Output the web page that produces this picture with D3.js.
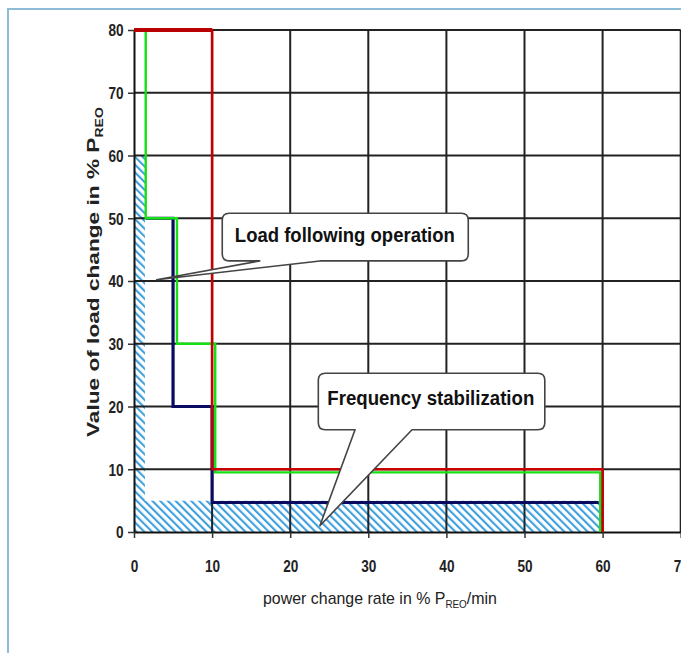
<!DOCTYPE html>
<html>
<head>
<meta charset="utf-8">
<script src="https://cdn.jsdelivr.net/npm/d3@7"></script>
<style>
  html, body { margin: 0; padding: 0; background: #fff; }
  svg { display: block; }
</style>
</head>
<body>
<svg id="chart" width="681" height="653"></svg>
<script>
// ---------- data ----------
const xTicks = [0, 10, 20, 30, 40, 50, 60, 70];
const yTicks = [0, 10, 20, 30, 40, 50, 60, 70, 80];

// step curves: [power change rate %/min, load change %]
const redSteps   = [[0, 80], [10, 80], [10, 10], [60, 10], [60, 0]];
const greenSteps = [[0.3, 80], [1.5, 80], [1.5, 50], [5.5, 50], [5.5, 30], [10.4, 30], [10.4, 9.5], [59.7, 9.5], [59.7, 0]];
const navySteps  = [[1.5, 50], [5, 50], [5, 20], [10, 20], [10, 4.7], [59.5, 4.7]];

// hatched (frequency stabilization) area outline
const hatchArea = [[0, 0], [0, 60], [1.4, 60], [1.4, 5], [60, 5], [60, 0]];

// callouts in data units
const callouts = [
  { text: "Load following operation", x0: 11.3, x1: 42.8, yTop: 50.8, yBot: 43.2,
    base1: 16.1, base2: 23.8, tip: [2.9, 40.2], tx: 27.0, ty: 46.2, tw: 220 },
  { text: "Frequency stabilization", x0: 23.6, x1: 52.6, yTop: 25.3, yBot: 16.3,
    base1: 28.3, base2: 35.6, tip: [23.8, 1.0], tx: 38.0, ty: 20.2, tw: 207 }
];

const xTitle = ["power change rate in % P", "REO", "/min"];
const yTitle = ["Value of load change in % P", "REO"];

// ---------- layout ----------
const svg = d3.select("#chart");
const x = d3.scaleLinear().domain([0, 70]).range([134, 680.7]);
const y = d3.scaleLinear().domain([0, 80]).range([532, 30]);

// frame
svg.append("rect").attr("x", 8).attr("y", 9).attr("width", 720).attr("height", 700)
  .attr("fill", "none").attr("stroke", "#8dbbd8").attr("stroke-width", 2);

// hatch pattern
const defs = svg.append("defs");
const pat = defs.append("pattern").attr("id", "hatch")
  .attr("patternUnits", "userSpaceOnUse").attr("width", 5.5).attr("height", 5.5)
  .attr("patternTransform", "rotate(-45)");
pat.append("line").attr("x1", 1).attr("y1", -1).attr("x2", 1).attr("y2", 7)
  .attr("stroke", "#3d9fdb").attr("stroke-width", 2.2);

const lineGen = d3.line().x(d => x(d[0])).y(d => y(d[1]));

svg.append("path").datum(hatchArea)
  .attr("d", d => lineGen(d) + "Z")
  .attr("fill", "url(#hatch)").attr("stroke", "none");

// grid
const grid = svg.append("g").attr("stroke", "#222").attr("stroke-width", 2);
grid.selectAll("line.h").data(yTicks.filter(v => v > 0)).join("line")
  .attr("x1", x(0)).attr("x2", x(70)).attr("y1", d => y(d)).attr("y2", d => y(d));
grid.selectAll("line.v").data(xTicks.filter(v => v > 0)).join("line")
  .attr("y1", y(0)).attr("y2", y(80)).attr("x1", d => x(d)).attr("x2", d => x(d));

// axes
const font = "'Liberation Sans', Arial, sans-serif";
const yAxis = svg.append("g").attr("transform", `translate(${x(0)},0)`)
  .call(d3.axisLeft(y).tickValues(yTicks).tickSize(6).tickPadding(4).tickSizeOuter(0));
const xAxis = svg.append("g").attr("transform", `translate(0,${y(0)})`)
  .call(d3.axisBottom(x).tickValues(xTicks).tickSize(6).tickPadding(4).tickSizeOuter(0));
[yAxis, xAxis].forEach(g => {
  g.select(".domain").attr("stroke", "#111").attr("stroke-width", 2);
  g.selectAll(".tick line").attr("stroke", "#333").attr("stroke-width", 1.5);
});
yAxis.selectAll(".tick text")
  .attr("font-family", font).attr("font-size", 17).attr("font-weight", "bold").attr("fill", "#222")
  .attr("x", -13).attr("dy", "0.34em")
  .attr("transform", "scale(0.8,1)");
xAxis.selectAll(".tick text")
  .attr("font-family", font).attr("font-size", 17).attr("font-weight", "bold").attr("fill", "#222")
  .attr("y", 0).attr("dy", 0)
  .attr("transform", "translate(0,40) scale(0.8,1)");

// step lines
svg.append("path").datum(navySteps).attr("d", lineGen)
  .attr("fill", "none").attr("stroke", "#0a0a5e").attr("stroke-width", 3.2);
svg.append("path").datum(greenSteps).attr("d", lineGen)
  .attr("fill", "none").attr("stroke", "#14e014").attr("stroke-width", 2.4);
svg.append("path").datum(redSteps).attr("d", lineGen)
  .attr("fill", "none").attr("stroke", "#c40000").attr("stroke-width", 2.6);
// thicker red top edge
svg.append("path").datum(redSteps.slice(0, 2)).attr("d", lineGen)
  .attr("fill", "none").attr("stroke", "#b80000").attr("stroke-width", 4);

// callouts
callouts.forEach(c => {
  const X0 = x(c.x0), X1 = x(c.x1), Y0 = y(c.yTop), Y1 = y(c.yBot), r = 7;
  const B1 = x(c.base1), B2 = x(c.base2), TX = x(c.tip[0]), TY = y(c.tip[1]);
  const p = `M${X0 + r},${Y0} H${X1 - r} Q${X1},${Y0} ${X1},${Y0 + r} V${Y1 - r} Q${X1},${Y1} ${X1 - r},${Y1}` +
            ` H${B2} L${TX},${TY} L${B1},${Y1} H${X0 + r} Q${X0},${Y1} ${X0},${Y1 - r} V${Y0 + r} Q${X0},${Y0} ${X0 + r},${Y0} Z`;
  svg.append("path").attr("d", p).attr("fill", "#fff")
    .attr("stroke", "#444").attr("stroke-width", 1.6).attr("stroke-linejoin", "round");
  const t = svg.append("text").attr("x", x(c.tx)).attr("y", y(c.ty))
    .attr("text-anchor", "middle").attr("font-family", font).attr("font-size", 20)
    .attr("font-weight", "bold").attr("fill", "#111")
    .attr("textLength", c.tw).attr("lengthAdjust", "spacingAndGlyphs")
    .text(c.text);
});

// axis titles (fitted to target length)
function fitTitle(parts, cx, cy, rotate, target, size, weight) {
  const g = svg.append("g");
  const t = g.append("text").attr("font-family", font).attr("font-size", size)
    .attr("font-weight", weight).attr("fill", "#222");
  parts.forEach((s, i) => {
    const ts = t.append("tspan").text(s);
    if (i === 1) ts.attr("font-size", size * 0.62).attr("dy", size * 0.25);
    if (i === 2) ts.attr("dy", -size * 0.25);
  });
  const w = t.node().getComputedTextLength();
  const k = target / w;
  t.attr("x", -w / 2);
  g.attr("transform", `translate(${cx},${cy}) rotate(${rotate}) scale(${k},1)`);
}
fitTitle(xTitle, 380, 604, 0, 234, 17, "normal");
fitTitle(yTitle, 99, 272, -90, 330, 17, "bold");
</script>
</body>
</html>
